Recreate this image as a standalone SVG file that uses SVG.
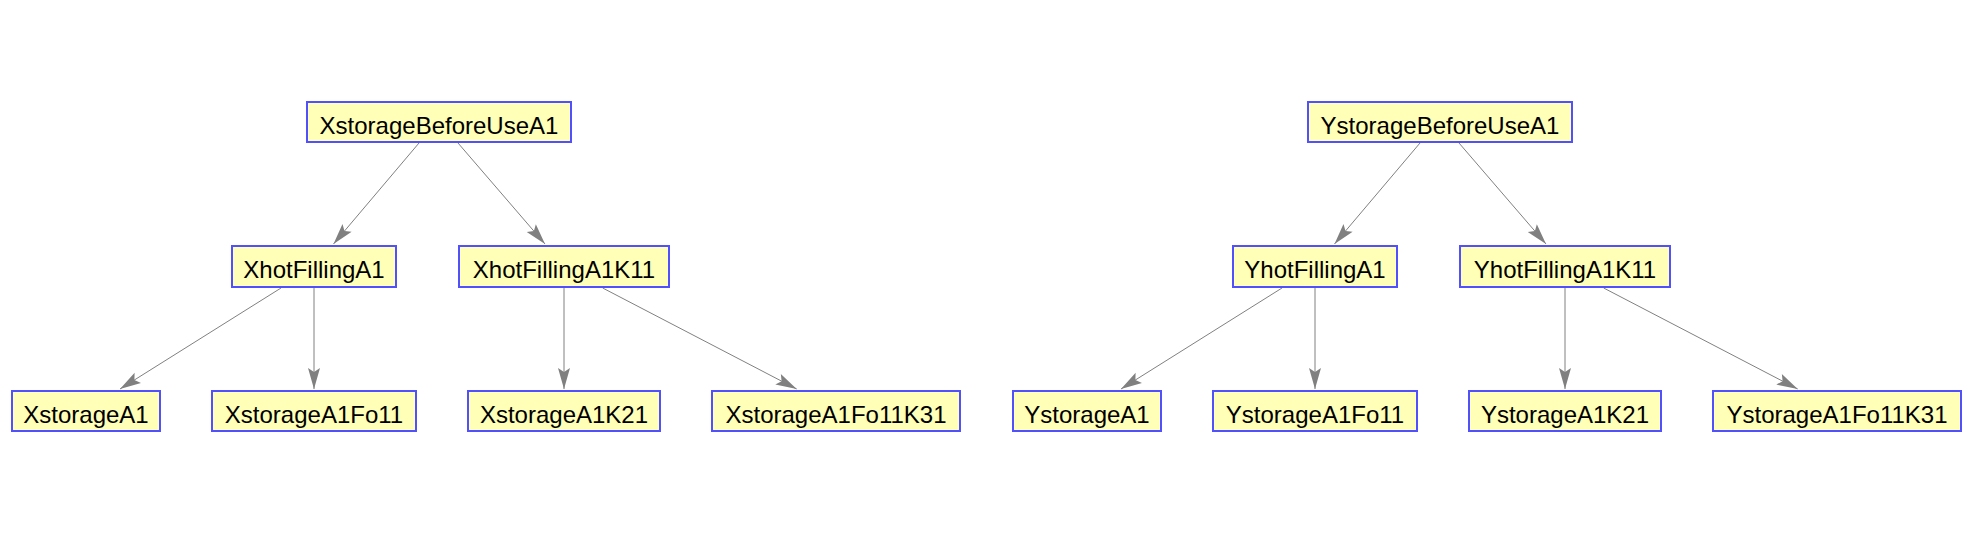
<svg xmlns="http://www.w3.org/2000/svg" width="1975" height="533" viewBox="0 0 1975 533">
<style>
.node rect{fill:#ffffb8;stroke:#5050ff;stroke-width:2}
.node text{font-family:"Liberation Sans",Arial,sans-serif;font-size:24px;fill:#000;text-anchor:middle}
.edges line{stroke:#808080;stroke-width:1;fill:none}
</style>
<defs>
<marker id="arr" markerUnits="userSpaceOnUse" markerWidth="24" markerHeight="14" viewBox="-22 -7 24 14" refX="0" refY="0" orient="auto">
<path d="M0,0 L-21,-6 L-17,0 L-21,6 Z" fill="#808080"/>
</marker>
</defs>
<rect width="1975" height="533" fill="#ffffff"/>
<g class="edges">
<line x1="419" y1="143" x2="333.5" y2="244" marker-end="url(#arr)"/>
<line x1="458" y1="143" x2="545" y2="244" marker-end="url(#arr)"/>
<line x1="281" y1="288" x2="120" y2="389" marker-end="url(#arr)"/>
<line x1="314" y1="288" x2="314" y2="389" marker-end="url(#arr)"/>
<line x1="564" y1="288" x2="564" y2="389" marker-end="url(#arr)"/>
<line x1="602.7" y1="288" x2="796.7" y2="389" marker-end="url(#arr)"/>
<line x1="1420" y1="143" x2="1334.5" y2="244" marker-end="url(#arr)"/>
<line x1="1459" y1="143" x2="1546" y2="244" marker-end="url(#arr)"/>
<line x1="1282" y1="288" x2="1121" y2="389" marker-end="url(#arr)"/>
<line x1="1315" y1="288" x2="1315" y2="389" marker-end="url(#arr)"/>
<line x1="1565" y1="288" x2="1565" y2="389" marker-end="url(#arr)"/>
<line x1="1603.7" y1="288" x2="1797.7" y2="389" marker-end="url(#arr)"/>
</g>
<g id="XstorageBeforeUseA1" class="node"><rect x="307" y="102" width="264" height="40"/><text x="439" y="134">XstorageBeforeUseA1</text></g>
<g id="XhotFillingA1" class="node"><rect x="232" y="246" width="164" height="41"/><text x="314" y="278">XhotFillingA1</text></g>
<g id="XhotFillingA1K11" class="node"><rect x="459" y="246" width="210" height="41"/><text x="564" y="278">XhotFillingA1K11</text></g>
<g id="XstorageA1" class="node"><rect x="12" y="391" width="148" height="40"/><text x="86" y="423">XstorageA1</text></g>
<g id="XstorageA1Fo11" class="node"><rect x="212" y="391" width="204" height="40"/><text x="314" y="423">XstorageA1Fo11</text></g>
<g id="XstorageA1K21" class="node"><rect x="468" y="391" width="192" height="40"/><text x="564" y="423">XstorageA1K21</text></g>
<g id="XstorageA1Fo11K31" class="node"><rect x="712" y="391" width="248" height="40"/><text x="836" y="423">XstorageA1Fo11K31</text></g>
<g id="YstorageBeforeUseA1" class="node"><rect x="1308" y="102" width="264" height="40"/><text x="1440" y="134">YstorageBeforeUseA1</text></g>
<g id="YhotFillingA1" class="node"><rect x="1233" y="246" width="164" height="41"/><text x="1315" y="278">YhotFillingA1</text></g>
<g id="YhotFillingA1K11" class="node"><rect x="1460" y="246" width="210" height="41"/><text x="1565" y="278">YhotFillingA1K11</text></g>
<g id="YstorageA1" class="node"><rect x="1013" y="391" width="148" height="40"/><text x="1087" y="423">YstorageA1</text></g>
<g id="YstorageA1Fo11" class="node"><rect x="1213" y="391" width="204" height="40"/><text x="1315" y="423">YstorageA1Fo11</text></g>
<g id="YstorageA1K21" class="node"><rect x="1469" y="391" width="192" height="40"/><text x="1565" y="423">YstorageA1K21</text></g>
<g id="YstorageA1Fo11K31" class="node"><rect x="1713" y="391" width="248" height="40"/><text x="1837" y="423">YstorageA1Fo11K31</text></g>
</svg>
